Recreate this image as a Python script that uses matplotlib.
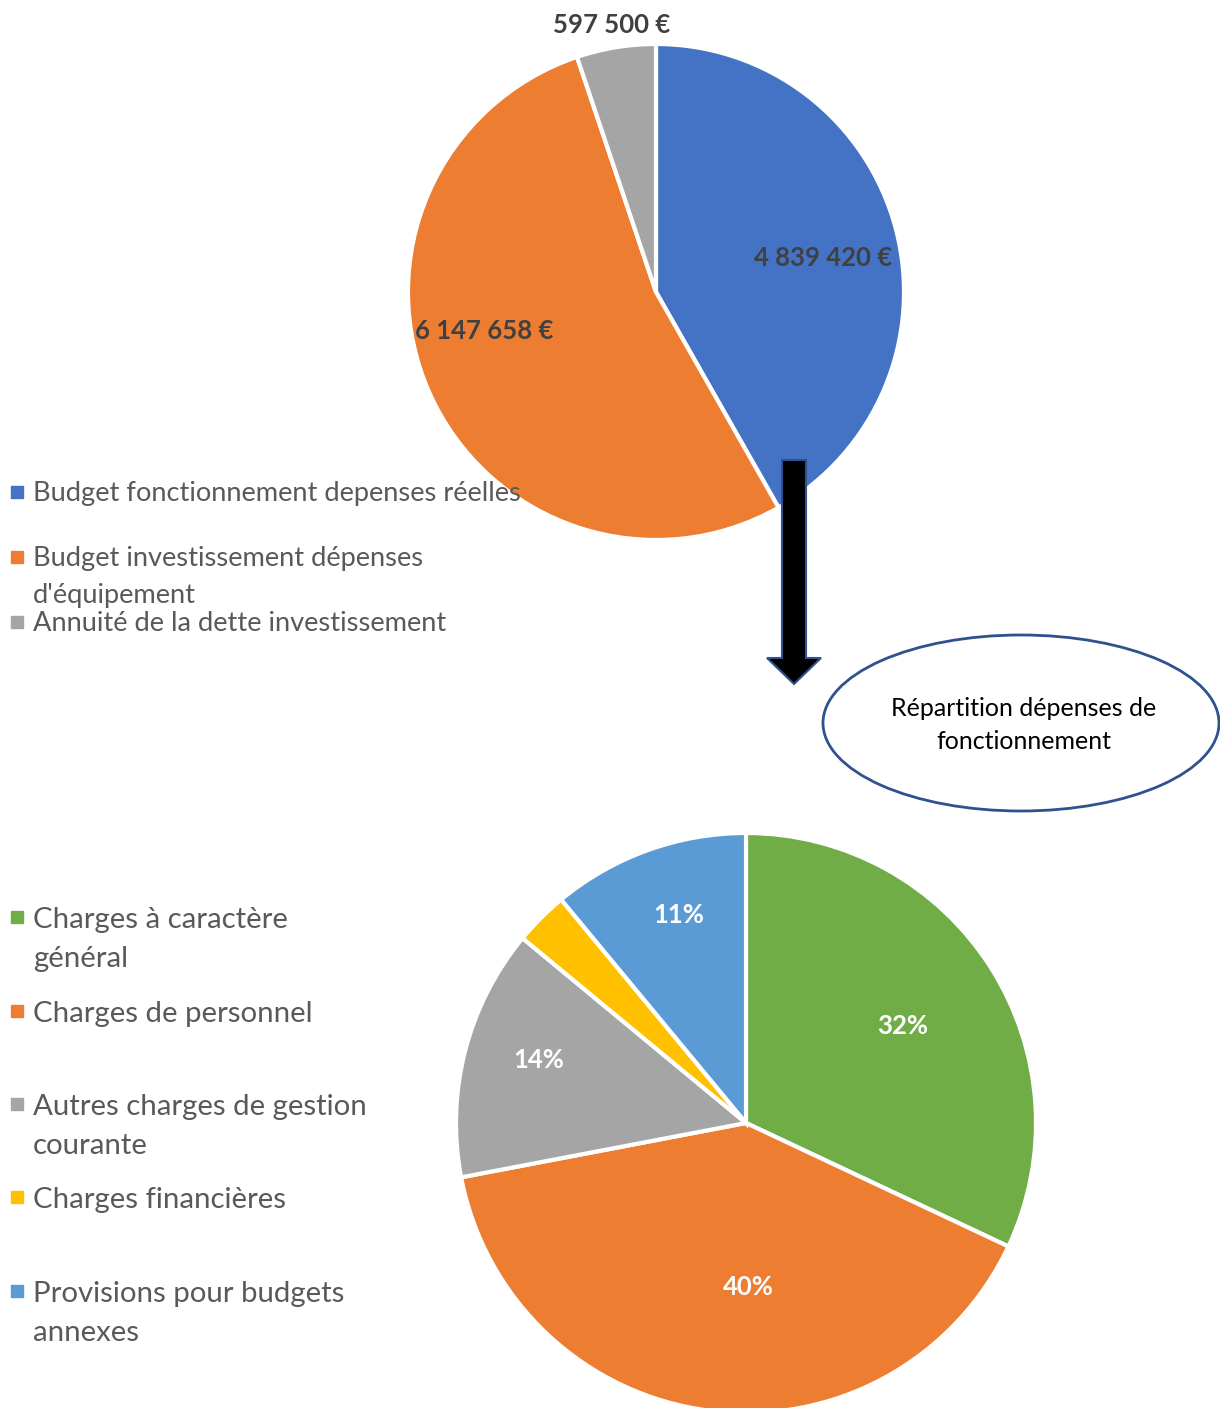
import matplotlib
matplotlib.use('Agg')
import matplotlib.pyplot as plt
from matplotlib.patches import Ellipse, FancyArrow
import numpy as np

plt.rcParams['font.family'] = ['Lato', 'DejaVu Sans']

###########
# Data

budget_labels = ['Budget fonctionnement depenses réelles',
                 "Budget investissement dépenses\nd'équipement",
                 'Annuité de la dette investissement']
budget_values = [4839420, 6147658, 597500]
budget_colors = ['#4472C4', '#ED7D31', '#A5A5A5']

fonct_labels = ['Charges à caractère\ngénéral',
                'Charges de personnel',
                'Autres charges de gestion\ncourante',
                'Charges financières',
                'Provisions pour budgets\nannexes']
fonct_pct = [32, 40, 14, 3, 11]
fonct_colors = ['#70AD47', '#ED7D31', '#A5A5A5', '#FFC000', '#5B9BD5']
fonct_shown = [True, True, True, False, True]

bubble_text = 'Répartition dépenses de\nfonctionnement'

###########
# Figure in pixel-like coords (y up)

W, H = 1220, 1408
fig = plt.figure(figsize=(W/100, H/100), dpi=100)
ax = fig.add_axes([0, 0, 1, 1])

TXT = '#595959'
LBL = '#404040'

# top pie
c1 = (656, H-292)
r1 = 248
w1, _ = ax.pie(budget_values, colors=budget_colors, startangle=90, counterclock=False,
               center=c1, radius=r1, frame=True,
               wedgeprops=dict(edgecolor='white', linewidth=3))
dist1 = [0.69, 0.71, 1.10]
shift1 = [-2.5, -12, 0]  # best-fit nudges (deg)
for w, v, d, s in zip(w1, budget_values, dist1, shift1):
    a = np.deg2rad((w.theta1+w.theta2)/2 + s)
    ax.text(c1[0]+d*r1*np.cos(a), c1[1]+d*r1*np.sin(a)-2,
            '{:,}'.format(v).replace(',', ' ')+' €',
            ha='center', va='center', fontsize=18.5, fontweight='bold', color=LBL, zorder=5)

# bottom pie
c2 = (746, H-1123)
r2 = 290
w2, _ = ax.pie(fonct_pct, colors=fonct_colors, startangle=90, counterclock=False,
               center=c2, radius=r2, frame=True,
               wedgeprops=dict(edgecolor='white', linewidth=3))
dist2 = [0.64, 0.56, 0.75, 0.7, 0.76]
shift2 = [0, 8, -3, 0, -2]
for w, p, d, s, show in zip(w2, fonct_pct, dist2, shift2, fonct_shown):
    if not show:
        continue
    a = np.deg2rad((w.theta1+w.theta2)/2 + s)
    ax.text(c2[0]+d*r2*np.cos(a), c2[1]+d*r2*np.sin(a)-2, f'{p}%',
            ha='center', va='center', fontsize=18.5, fontweight='bold', color='white', zorder=5)

ax.set_xlim(0, W)
ax.set_ylim(0, H)
ax.set_aspect('equal')
ax.axis('off')

# legends
leg1_y = [492, 557, 622]
for lab, col, y in zip(budget_labels, budget_colors, leg1_y):
    ax.plot(17, H-y, marker='s', ms=8, color=col, zorder=6)
    ax.text(33, H-y+11, lab, ha='left', va='top', fontsize=19.6, color=TXT,
            linespacing=1.58, zorder=6)

leg2_y = [917, 1011, 1104, 1197, 1291]
for lab, col, y in zip(fonct_labels, fonct_colors, leg2_y):
    ax.plot(17, H-y, marker='s', ms=8, color=col, zorder=6)
    ax.text(33, H-y+10, lab, ha='left', va='top', fontsize=21.2, color=TXT,
            linespacing=1.62, zorder=6)

# arrow
ax.add_patch(FancyArrow(794, H-460, 0, -(684-460), width=24, head_width=54,
                        head_length=26, length_includes_head=True,
                        facecolor='black', edgecolor='#2F528F', linewidth=1.5, zorder=7))

# bubble
ax.add_patch(Ellipse((1021, H-723), 396, 176, facecolor='white',
                     edgecolor='#2F528F', linewidth=2, zorder=7))
ax.text(1024, H-725, bubble_text, ha='center', va='center', fontsize=18,
        color='black', linespacing=1.5, zorder=8)

fig.savefig('out.png', dpi=100)
